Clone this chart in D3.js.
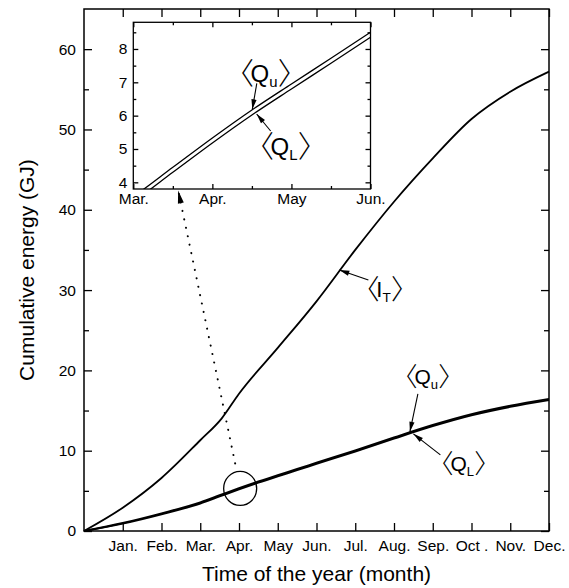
<!DOCTYPE html>
<html>
<head>
  <meta charset="utf-8">
  <style type="text/css">
    body { margin: 0; background: #fff; }
    svg { font-family: "Liberation Sans", Arial, Helvetica, sans-serif; }
    .axis text { font-size: 15.5px; fill: #000; }
    .axis line { stroke: #000; stroke-width: 1.3px; }
    .frame { fill: none; stroke: #000; stroke-width: 1.5px; }
    .title { font-size: 21px; fill: #000; }
    .br { font-family: "Noto Sans CJK JP", sans-serif; font-weight: 300; }
    .arrow { stroke: #000; stroke-width: 1.1px; fill: none; }
  </style>
</head>
<body>
  <script src="https://d3js.org/d3.v7.min.js"></script>
  <script>
    // data (months since 1 Jan, energy in GJ)
    var months = [0, 1, 2, 3, 3.5, 4, 4.5, 5, 5.5, 6, 7, 8, 9, 10, 11, 12];
    var qUpper = [0, 1.0, 2.2, 3.57, 4.45, 5.33, 6.17, 6.95, 7.72, 8.5, 10.05, 11.65, 13.2, 14.55, 15.6, 16.45];
    var qLower = [0, 0.92, 2.08, 3.42, 4.3, 5.18, 6.02, 6.8, 7.57, 8.35, 9.9, 11.5, 13.05, 14.4, 15.45, 16.3];

    var itMonths = [0, 1, 2, 3, 3.55, 4, 5, 6, 7, 8, 9, 10, 11, 12];
    var itValues = [0, 2.9, 6.6, 11.3, 14.0, 17.1, 22.8, 28.6, 35.0, 41.0, 46.4, 51.3, 54.7, 57.2];

    var monthTicks = [1, 2, 3, 4, 5, 6, 7, 8, 9, 10, 11, 12];
    var monthLabels = ["Jan.", "Feb.", "Mar.", "Apr.", "May", "Jun.", "Jul.", "Aug.", "Sep.", "Oct .", "Nov.", "Dec."];
    var yMajor = [0, 10, 20, 30, 40, 50, 60];
    var yMinor = [5, 15, 25, 35, 45, 55];

    var insetTicks = [3, 4, 5, 6];
    var insetLabels = ["Mar.", "Apr.", "May", "Jun."];
    var insetMinorX = [3.5, 4.5, 5.5];
    var insetYMajor = [4, 5, 6, 7, 8];
    var insetYMinor = [4.5, 5.5, 6.5, 7.5, 8.5];

    var W = 569, H = 588;
    var svg = d3.select("body").append("svg").attr("width", W).attr("height", H);

    var defs = svg.append("defs");
    defs.append("marker").attr("id", "head")
      .attr("markerUnits", "userSpaceOnUse").attr("orient", "auto")
      .attr("viewBox", "-11 -4 12 8").attr("refX", 0).attr("refY", 0)
      .attr("markerWidth", 12).attr("markerHeight", 8)
      .append("path").attr("d", "M0,0L-10,-2.6L-10,2.6Z").attr("fill", "#000");
    defs.append("marker").attr("id", "longhead")
      .attr("markerUnits", "userSpaceOnUse").attr("orient", "auto")
      .attr("viewBox", "-14 -4 15 8").attr("refX", 0).attr("refY", 0)
      .attr("markerWidth", 15).attr("markerHeight", 8)
      .append("path").attr("d", "M0,0L-13,-3L-13,3Z").attr("fill", "#000");

    // main scales
    var x = d3.scaleLinear().domain([0, 12]).range([84, 549]);
    var y = d3.scaleLinear().domain([0, 65]).range([531, 9]);

    function noDomain(g) { g.select(".domain").remove(); }

    svg.append("g").attr("class", "axis").attr("transform", "translate(0," + y(0) + ")")
      .call(d3.axisBottom(x).tickValues(monthTicks).tickSizeInner(-8).tickSizeOuter(0).tickPadding(9)
        .tickFormat(function(d, i) { return monthLabels[i]; }))
      .call(noDomain);
    svg.append("g").attr("class", "axis").attr("transform", "translate(0," + y(65) + ")")
      .call(d3.axisTop(x).tickValues(monthTicks).tickSizeInner(-8).tickSizeOuter(0).tickFormat(""))
      .call(noDomain);
    svg.append("g").attr("class", "axis").attr("transform", "translate(" + x(0) + ",0)")
      .call(d3.axisLeft(y).tickValues(yMajor).tickSizeInner(-8).tickSizeOuter(0).tickPadding(8))
      .call(noDomain);
    svg.append("g").attr("class", "axis").attr("transform", "translate(" + x(0) + ",0)")
      .call(d3.axisLeft(y).tickValues(yMinor).tickSizeInner(-5).tickSizeOuter(0).tickFormat(""))
      .call(noDomain);
    svg.append("g").attr("class", "axis").attr("transform", "translate(" + x(12) + ",0)")
      .call(d3.axisRight(y).tickValues(yMajor).tickSizeInner(-8).tickSizeOuter(0).tickFormat(""))
      .call(noDomain);
    svg.append("g").attr("class", "axis").attr("transform", "translate(" + x(12) + ",0)")
      .call(d3.axisRight(y).tickValues(yMinor).tickSizeInner(-5).tickSizeOuter(0).tickFormat(""))
      .call(noDomain);

    svg.append("rect").attr("class", "frame")
      .attr("x", x(0)).attr("y", y(65)).attr("width", x(12) - x(0)).attr("height", y(0) - y(65));

    // main curves
    var itLine = d3.line().x(function(d, i) { return x(itMonths[i]); }).y(function(d) { return y(d); })
      .curve(d3.curveMonotoneX);
    var qLine = d3.line().x(function(d, i) { return x(months[i]); }).y(function(d) { return y(d); })
      .curve(d3.curveMonotoneX);

    svg.append("path").attr("d", itLine(itValues)).attr("fill", "none").attr("stroke", "#000").attr("stroke-width", 1.8);
    svg.append("path").attr("d", qLine(qUpper)).attr("fill", "none").attr("stroke", "#000").attr("stroke-width", 1.9);
    svg.append("path").attr("d", qLine(qLower)).attr("fill", "none").attr("stroke", "#000").attr("stroke-width", 1.9);

    // titles
    svg.append("text").attr("class", "title").attr("x", (x(0) + x(12)) / 2).attr("y", 581)
      .attr("text-anchor", "middle").text("Time of the year (month)");
    svg.append("text").attr("class", "title").attr("transform", "translate(34," + (y(0) + y(65)) / 2 + ") rotate(-90)")
      .attr("text-anchor", "middle").text("Cumulative energy (GJ)");

    // bracket label <X_s>, lx = left edge of the opening bracket
    function bracketLabel(parent, lx, ly, letter, sub, size) {
      var bs = size * 1.25;
      var t = parent.append("text").attr("x", lx - bs * 0.58).attr("y", ly + bs * 0.08)
        .style("font-size", size + "px").attr("fill", "#000");
      t.append("tspan").attr("class", "br").style("font-size", bs + "px").text("\u3008");
      t.append("tspan").attr("dx", -bs * 0.12).attr("dy", -bs * 0.08).text(letter);
      t.append("tspan").attr("dy", size * 0.22).style("font-size", (size * 0.62) + "px").text(sub);
      t.append("tspan").attr("dy", -size * 0.22 + bs * 0.08).attr("dx", bs * 0.01).attr("class", "br")
        .style("font-size", bs + "px").text("\u3009");
    }

    function arrow(parent, x1, y1, x2, y2) {
      parent.append("line").attr("class", "arrow")
        .attr("x1", x1).attr("y1", y1).attr("x2", x2).attr("y2", y2)
        .attr("marker-end", "url(#head)");
    }

    // main annotations
    var tipI = [x(6.59), y(32.5)];
    arrow(svg, tipI[0] + 29, tipI[1] + 10, tipI[0], tipI[1]);
    bracketLabel(svg, 368, 297, "I", "T", 22);

    var tipQu = [x(8.41), y(12.35)];
    arrow(svg, tipQu[0] + 8, tipQu[1] - 38, tipQu[0], tipQu[1]);
    bracketLabel(svg, 406.5, 384, "Q", "u", 21);

    var tipQl = [x(8.5), y(12.1)];
    arrow(svg, tipQl[0] + 27, tipQl[1] + 21, tipQl[0], tipQl[1]);
    bracketLabel(svg, 442.5, 471, "Q", "L", 21);

    // zoom circle and dotted pointer
    var cx = x(4.03), cy = y(5.3);
    svg.append("ellipse").attr("cx", cx).attr("cy", cy).attr("rx", 16.5).attr("ry", 17)
      .attr("fill", "none").attr("stroke", "#000").attr("stroke-width", 1.3);
    svg.append("path")
      .attr("d", "M" + (cx - 5) + "," + (cy - 25) + "Q" + (cx - 33) + "," + (cy - 160) + " " + (cx - 62) + "," + (cy - 298))
      .attr("fill", "none").attr("stroke", "#000").attr("stroke-width", 2)
      .attr("stroke-linecap", "round").attr("stroke-dasharray", "0.1 8.5")
      .attr("marker-end", "url(#longhead)");

    // inset
    var ix = d3.scaleLinear().domain([3, 6]).range([133.3, 370.5]);
    var iy = d3.scaleLinear().domain([3.8, 8.8]).range([189, 22.3]);
    var inset = svg.append("g");
    inset.append("rect").attr("x", ix(3)).attr("y", iy(8.8)).attr("width", ix(6) - ix(3)).attr("height", iy(3.8) - iy(8.8))
      .attr("fill", "#fff");
    defs.append("clipPath").attr("id", "insetclip").append("rect")
      .attr("x", ix(3)).attr("y", iy(8.8)).attr("width", ix(6) - ix(3)).attr("height", iy(3.8) - iy(8.8));

    inset.append("g").attr("class", "axis").attr("transform", "translate(0," + iy(3.8) + ")")
      .call(d3.axisBottom(ix).tickValues(insetTicks).tickSizeInner(-5).tickSizeOuter(0).tickPadding(4)
        .tickFormat(function(d, i) { return insetLabels[i]; }))
      .call(noDomain);
    inset.append("g").attr("class", "axis").attr("transform", "translate(0," + iy(3.8) + ")")
      .call(d3.axisBottom(ix).tickValues(insetMinorX).tickSizeInner(-3).tickSizeOuter(0).tickFormat(""))
      .call(noDomain);
    inset.append("g").attr("class", "axis").attr("transform", "translate(0," + iy(8.8) + ")")
      .call(d3.axisTop(ix).tickValues(insetTicks).tickSizeInner(-5).tickSizeOuter(0).tickFormat(""))
      .call(noDomain);
    inset.append("g").attr("class", "axis").attr("transform", "translate(0," + iy(8.8) + ")")
      .call(d3.axisTop(ix).tickValues(insetMinorX).tickSizeInner(-3).tickSizeOuter(0).tickFormat(""))
      .call(noDomain);
    inset.append("g").attr("class", "axis").attr("transform", "translate(" + ix(3) + ",0)")
      .call(d3.axisLeft(iy).tickValues(insetYMajor).tickSizeInner(-5).tickSizeOuter(0).tickPadding(6)
        .tickFormat(d3.format("d")))
      .call(noDomain);
    inset.append("g").attr("class", "axis").attr("transform", "translate(" + ix(3) + ",0)")
      .call(d3.axisLeft(iy).tickValues(insetYMinor).tickSizeInner(-3).tickSizeOuter(0).tickFormat(""))
      .call(noDomain);
    inset.append("g").attr("class", "axis").attr("transform", "translate(" + ix(6) + ",0)")
      .call(d3.axisRight(iy).tickValues(insetYMajor).tickSizeInner(-5).tickSizeOuter(0).tickFormat(""))
      .call(noDomain);
    inset.append("g").attr("class", "axis").attr("transform", "translate(" + ix(6) + ",0)")
      .call(d3.axisRight(iy).tickValues(insetYMinor).tickSizeInner(-3).tickSizeOuter(0).tickFormat(""))
      .call(noDomain);

    var iLine = d3.line().x(function(d, i) { return ix(months[i]); }).y(function(d) { return iy(d); })
      .curve(d3.curveMonotoneX);
    var lines = inset.append("g").attr("clip-path", "url(#insetclip)");
    lines.append("path").attr("d", iLine(qUpper)).attr("fill", "none").attr("stroke", "#000").attr("stroke-width", 1.3);
    lines.append("path").attr("d", iLine(qLower)).attr("fill", "none").attr("stroke", "#000").attr("stroke-width", 1.3);

    inset.append("rect").attr("class", "frame").style("stroke-width", "1.3px")
      .attr("x", ix(3)).attr("y", iy(8.8)).attr("width", ix(6) - ix(3)).attr("height", iy(3.8) - iy(8.8));

    var tipIu = [ix(4.505), iy(6.19)];
    arrow(inset, tipIu[0] + 4.5, tipIu[1] - 26, tipIu[0], tipIu[1]);
    bracketLabel(inset, 241.5, 82, "Q", "u", 24);

    var tipIl = [ix(4.56), iy(6.05)];
    arrow(inset, tipIl[0] + 14, tipIl[1] + 17, tipIl[0], tipIl[1]);
    bracketLabel(inset, 261.5, 155, "Q", "L", 24);
  </script>
</body>
</html>
